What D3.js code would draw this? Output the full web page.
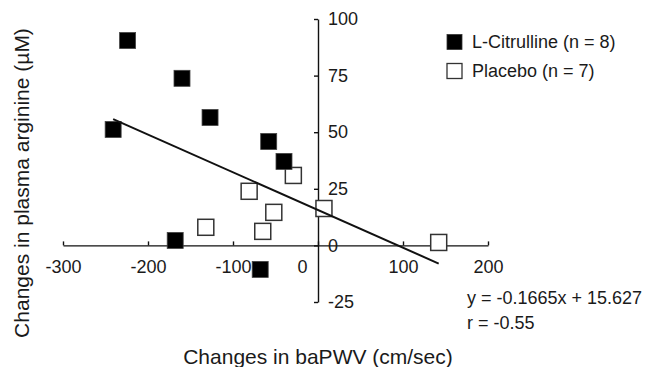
<!DOCTYPE html>
<html>
<head>
<meta charset="utf-8">
<script src="https://cdn.jsdelivr.net/npm/d3@7"></script>
<style>
  body { margin: 0; background: #fff; }
  svg text { font-family: "Liberation Sans", Arial, Helvetica, sans-serif; fill: #1a1a1a; }
</style>
</head>
<body>
<div id="chart"></div>
<script>
// values
const citrullineX = [-224, -160, -127, -241, -58, -40, -168, -68];
const citrullineY = [90.5, 73.8, 56.5, 51.2, 45.9, 37.1, 2.2, -10.6];
const placeboX = [-29, -81, -52, -132, -65, 7, 142];
const placeboY = [30.9, 23.9, 14.6, 8.0, 6.2, 16.3, 1.3];
const xTicks = [-300, -200, -100, 0, 100, 200];
const yTicks = [-25, 0, 25, 50, 75, 100];
const slope = -0.1665, intercept = 15.627;
const legendLabels = ["L-Citrulline (n = 8)", "Placebo (n = 7)"];
const fitLabels = ["y = -0.1665x + 15.627", "r = -0.55"];

const width = 649, height = 367;
const sq = 16;

const svg = d3.select("#chart").append("svg")
  .attr("width", width)
  .attr("height", height);

let x = d3.scaleLinear().domain([-300, 200]).range([63, 488]);
let y = d3.scaleLinear().domain([-25, 100]).range([302, 19]);

let xAxis = d3.axisBottom(x)
  .tickValues(xTicks)
  .tickFormat(d => String(d))
  .tickSize(-4)
  .tickSizeOuter(0)
  .tickPadding(15);

let yAxis = d3.axisRight(y)
  .tickValues(yTicks)
  .tickFormat(d => String(d))
  .tickSize(-4)
  .tickSizeOuter(0)
  .tickPadding(10);

let gx = svg.append("g")
  .attr("class", "x axis")
  .attr("transform", "translate(0," + y(0) + ")")
  .call(xAxis);

let gy = svg.append("g")
  .attr("class", "y axis")
  .attr("transform", "translate(" + x(0) + ",0)")
  .call(yAxis);

svg.selectAll(".axis path, .axis line")
  .attr("stroke", "#111")
  .attr("stroke-width", 1.4);
svg.selectAll(".axis text")
  .attr("font-size", 18)
  .attr("font-family", null);

// the "0" under the x axis sits left of the y axis
gx.selectAll(".tick text").filter(d => d === 0).attr("dx", -16);

// placebo: open squares
svg.append("g").selectAll("rect")
  .data(placeboX.map((v, i) => [v, placeboY[i]]))
  .enter().append("rect")
    .attr("x", d => x(d[0]) - sq / 2)
    .attr("y", d => y(d[1]) - sq / 2)
    .attr("width", sq)
    .attr("height", sq)
    .attr("fill", "#fff")
    .attr("stroke", "#333")
    .attr("stroke-width", 1.5);

// L-citrulline: filled squares
svg.append("g").selectAll("rect")
  .data(citrullineX.map((v, i) => [v, citrullineY[i]]))
  .enter().append("rect")
    .attr("x", d => x(d[0]) - sq / 2)
    .attr("y", d => y(d[1]) - sq / 2)
    .attr("width", sq)
    .attr("height", sq)
    .attr("fill", "#000")
    .attr("stroke", "#444")
    .attr("stroke-width", 0.8);

// regression line over the full x range of the data
let allX = citrullineX.concat(placeboX);
let x0 = d3.min(allX), x1 = d3.max(allX);
svg.append("line")
  .attr("x1", x(x0)).attr("y1", y(slope * x0 + intercept))
  .attr("x2", x(x1)).attr("y2", y(slope * x1 + intercept))
  .attr("stroke", "#111")
  .attr("stroke-width", 2);

// legend
let legend = svg.append("g").attr("transform", "translate(447,0)");
[42, 71].forEach((cy, i) => {
  legend.append("rect")
    .attr("x", 0).attr("y", cy - 7.5)
    .attr("width", 15).attr("height", 15)
    .attr("fill", i === 0 ? "#000" : "#fff")
    .attr("stroke", "#333")
    .attr("stroke-width", i === 0 ? 0.8 : 1.3);
  legend.append("text")
    .attr("x", 25).attr("y", cy)
    .attr("dy", "0.35em")
    .attr("font-size", 18)
    .text(legendLabels[i]);
});

// fit equation
fitLabels.forEach((t, i) => {
  svg.append("text")
    .attr("x", 467).attr("y", 298 + i * 25)
    .attr("dy", "0.35em")
    .attr("font-size", 18)
    .text(t);
});

// axis titles
svg.append("text")
  .attr("x", 318).attr("y", 357)
  .attr("dy", "0.35em")
  .attr("text-anchor", "middle")
  .attr("font-size", 21)
  .text("Changes in baPWV (cm/sec)");

svg.append("text")
  .attr("transform", "translate(22,183) rotate(-90)")
  .attr("dy", "0.35em")
  .attr("text-anchor", "middle")
  .attr("font-size", 21)
  .text("Changes in plasma arginine (µM)");
</script>
</body>
</html>
